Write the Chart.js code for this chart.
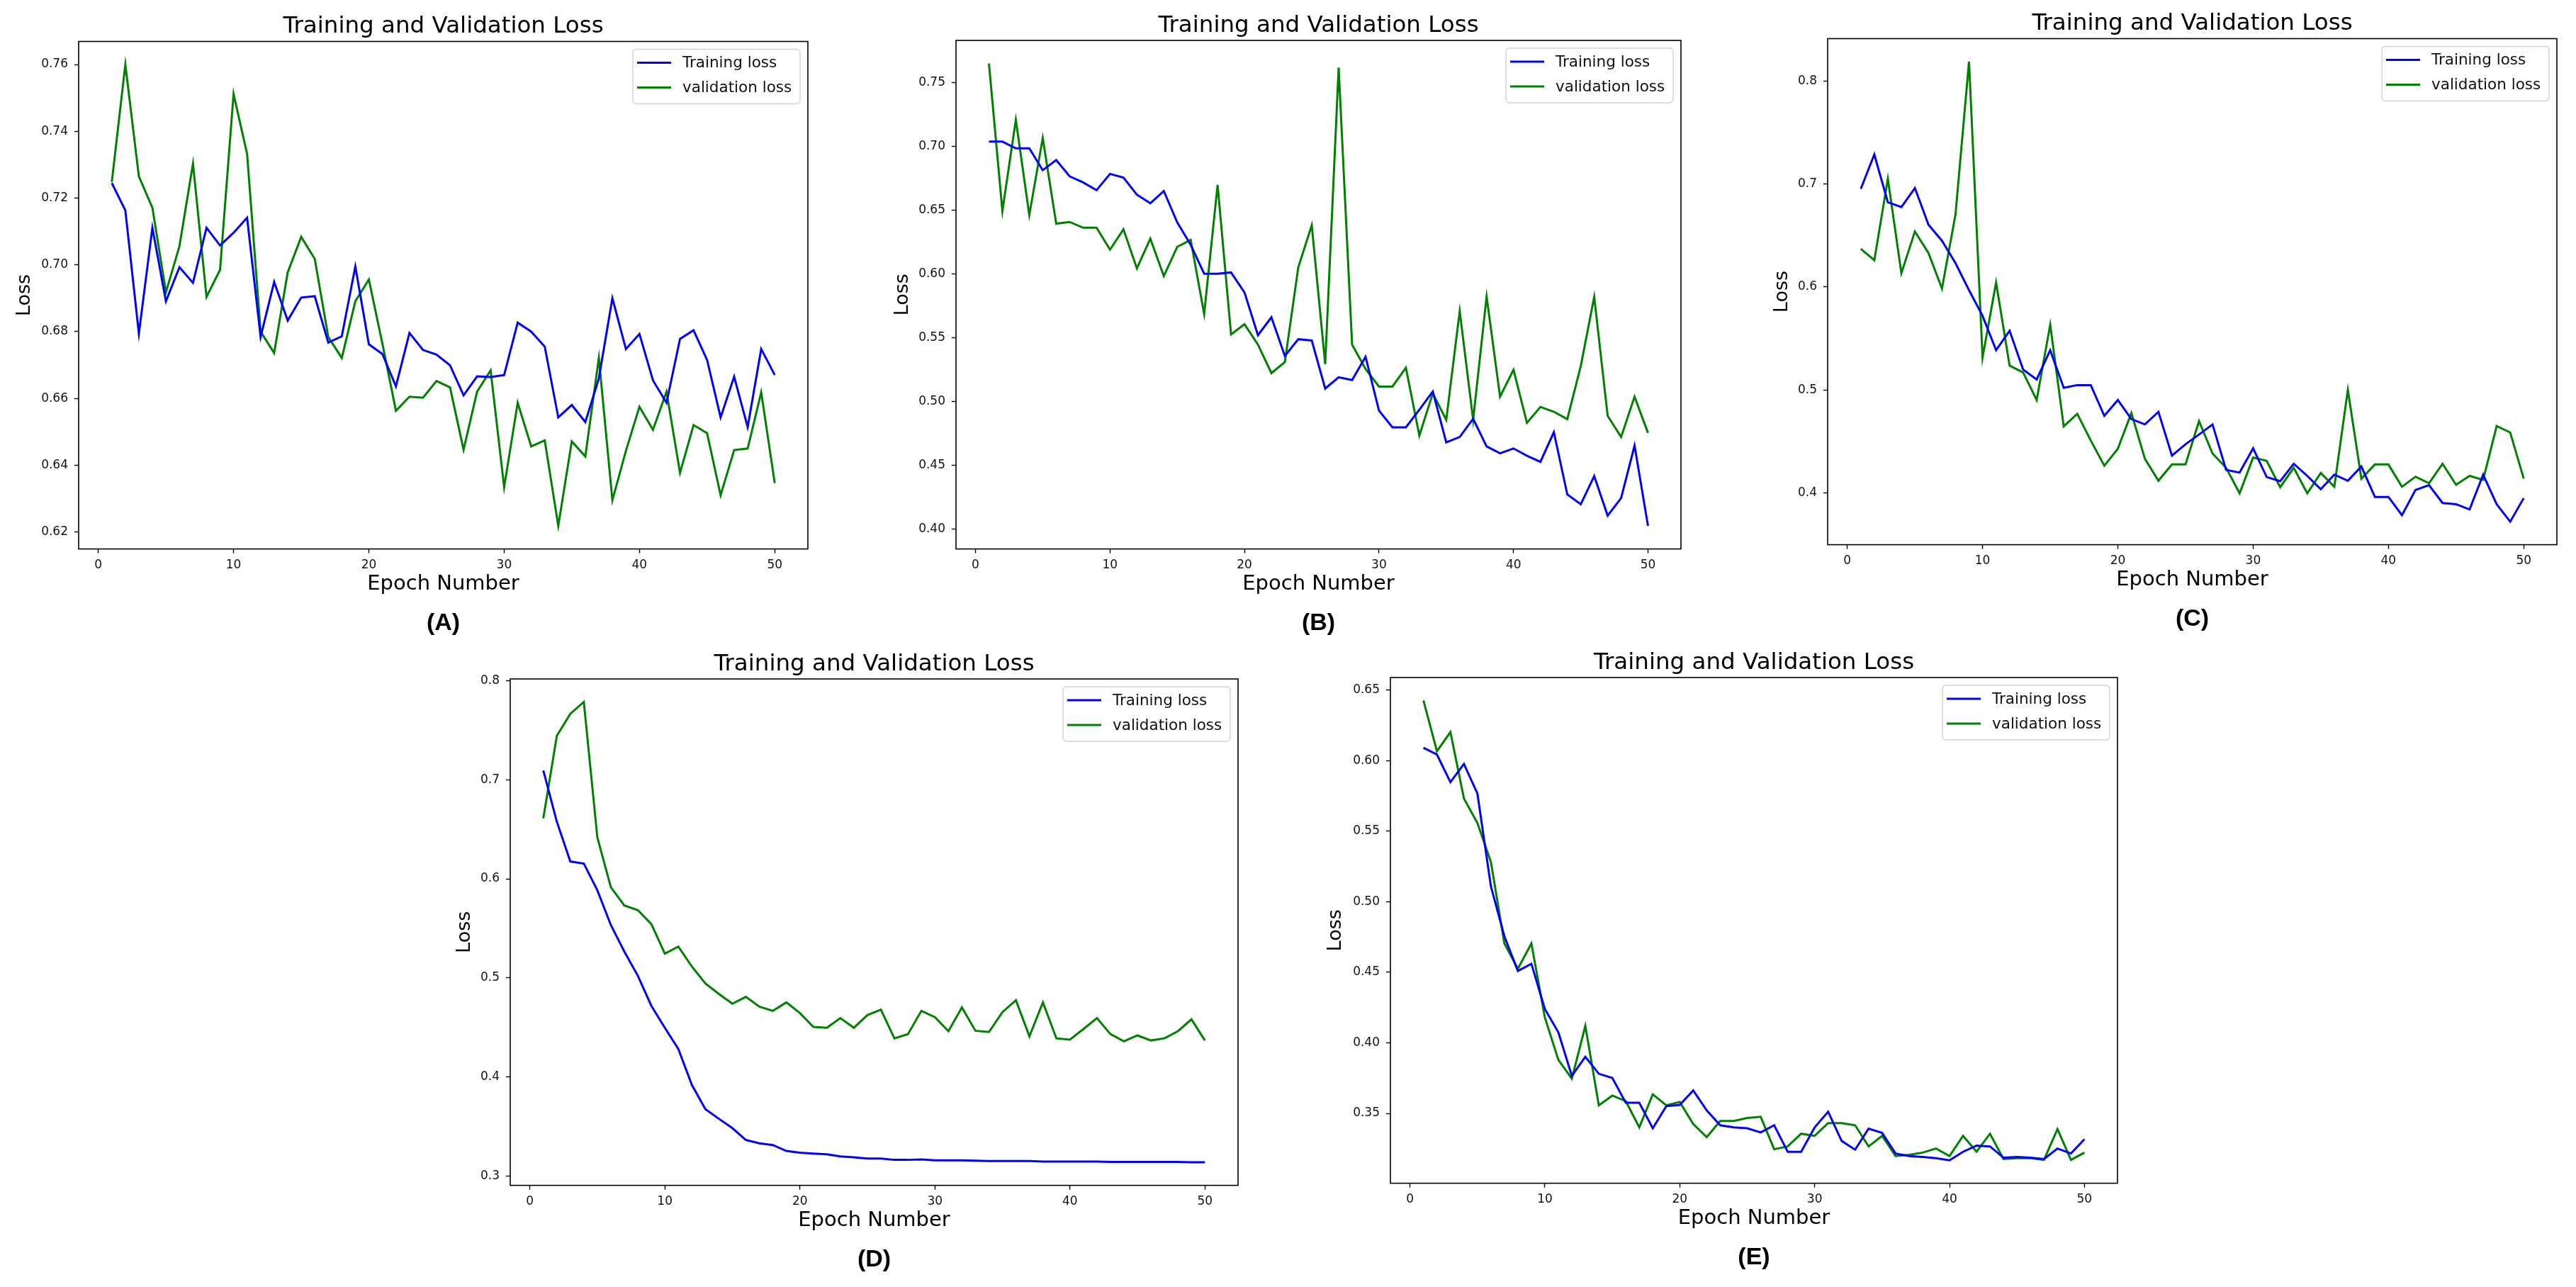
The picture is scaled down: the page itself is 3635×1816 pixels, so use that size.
<!DOCTYPE html>
<html><head><meta charset="utf-8">
<script src="https://cdn.jsdelivr.net/npm/chart.js@4.4.1/dist/chart.umd.min.js"></script>
<style>
html,body{margin:0;padding:0;background:#fff;}
#page{position:relative;width:3635px;height:1816px;overflow:hidden;background:#fff;}
#page canvas{position:absolute;}
</style></head><body><div id="page"></div>
<script>
const epochs = [1,2,3,4,5,6,7,8,9,10,11,12,13,14,15,16,17,18,19,20,21,22,23,24,25,26,27,28,29,30,31,32,33,34,35,36,37,38,39,40,41,42,43,44,45,46,47,48,49,50];
const xTickLabels = ['0','10','20','30','40','50'];
const chartTitle = 'Training and Validation Loss';
const xAxisTitle = 'Epoch Number';
const yAxisTitle = 'Loss';
const seriesNames = ['Training loss','validation loss'];
const panelLabels = ['(A)','(B)','(C)','(D)','(E)'];

const trainA = [0.7245,0.7163,0.6794,0.7111,0.6891,0.6993,0.6946,0.7111,0.7058,0.7096,
0.7141,0.6784,0.6949,0.6833,0.6902,0.6906,0.6767,0.6786,0.6995,0.6762,
0.6733,0.6636,0.6796,0.6745,0.6731,0.6699,0.6609,0.6666,0.6664,0.6670,
0.6827,0.6800,0.6755,0.6543,0.6580,0.6529,0.6660,0.6900,0.6748,0.6793,
0.6654,0.6587,0.6778,0.6804,0.6715,0.6543,0.6665,0.6514,0.6748,0.6670];
const valA = [0.7248,0.7600,0.7265,0.7171,0.6918,0.7056,0.7303,0.6904,0.6985,0.7512,
0.7332,0.6800,0.6736,0.6977,0.7084,0.7018,0.6784,0.6721,0.6891,0.6956,
0.6764,0.6563,0.6605,0.6602,0.6652,0.6633,0.6446,0.6620,0.6684,0.6334,
0.6587,0.6456,0.6474,0.6218,0.6471,0.6426,0.6721,0.6295,0.6443,0.6575,
0.6506,0.6620,0.6377,0.6520,0.6496,0.6310,0.6445,0.6450,0.6618,0.6346];
const yTicksA = ['0.62','0.64','0.66','0.68','0.70','0.72','0.74','0.76'];

const trainB = [0.7037,0.7037,0.6985,0.6985,0.6813,0.6893,0.6765,0.6717,0.6656,0.6784,
0.6755,0.6621,0.6554,0.6650,0.6404,0.6228,0.6001,0.6001,0.6011,0.5854,
0.5519,0.5659,0.5356,0.5487,0.5477,0.5100,0.5189,0.5167,0.5349,0.4927,
0.4796,0.4796,0.4934,0.5077,0.4678,0.4720,0.4863,0.4646,0.4592,0.4630,
0.4573,0.4525,0.4758,0.4269,0.4192,0.4413,0.4103,0.4240,0.4652,0.4023];
const valB = [0.7650,0.6493,0.7209,0.6461,0.7065,0.6394,0.6407,0.6362,0.6362,0.6190,
0.6349,0.6043,0.6276,0.5982,0.6212,0.6266,0.5685,0.6698,0.5525,0.5605,
0.5445,0.5221,0.5308,0.6052,0.6381,0.5292,0.7618,0.5445,0.5253,0.5116,
0.5116,0.5263,0.4732,0.5062,0.4854,0.5707,0.4854,0.5822,0.5036,0.5247,
0.4831,0.4956,0.4918,0.4860,0.5276,0.5819,0.4886,0.4720,0.5036,0.4752];
const yTicksB = ['0.40','0.45','0.50','0.55','0.60','0.65','0.70','0.75'];

const trainC = [0.6953,0.7287,0.6823,0.6776,0.6961,0.6606,0.6449,0.6232,0.5969,0.5720,
0.5386,0.5575,0.5197,0.5102,0.5386,0.5020,0.5047,0.5047,0.4748,0.4902,
0.4717,0.4665,0.4787,0.4362,0.4472,0.4567,0.4665,0.4224,0.4197,0.4433,
0.4154,0.4114,0.4283,0.4165,0.4035,0.4177,0.4118,0.4256,0.3961,0.3961,
0.3783,0.4028,0.4075,0.3902,0.3890,0.3839,0.4177,0.3890,0.3720,0.3949];
const valC = [0.6370,0.6260,0.7051,0.6134,0.6539,0.6331,0.5984,0.6705,0.8189,0.5315,
0.6043,0.5236,0.5169,0.4902,0.5634,0.4646,0.4768,0.4508,0.4264,0.4429,
0.4776,0.4331,0.4118,0.4276,0.4276,0.4697,0.4382,0.4244,0.3996,0.4343,
0.4311,0.4055,0.4244,0.3996,0.4193,0.4059,0.5000,0.4138,0.4276,0.4276,
0.4059,0.4157,0.4094,0.4283,0.4079,0.4165,0.4126,0.4650,0.4587,0.4138];
const yTicksC = ['0.4','0.5','0.6','0.7','0.8'];

const trainD = [0.7094,0.6577,0.6175,0.6154,0.5885,0.5534,0.5265,0.5021,0.4718,0.4496,
0.4282,0.3919,0.3675,0.3577,0.3483,0.3363,0.3329,0.3312,0.3252,0.3235,
0.3226,0.3218,0.3197,0.3188,0.3175,0.3175,0.3162,0.3162,0.3167,0.3158,
0.3158,0.3158,0.3154,0.3150,0.3150,0.3150,0.3150,0.3145,0.3145,0.3145,
0.3145,0.3145,0.3141,0.3141,0.3141,0.3141,0.3141,0.3141,0.3137,0.3137];
const valD = [0.6611,0.7444,0.7667,0.7786,0.6419,0.5915,0.5731,0.5684,0.5543,0.5244,
0.5316,0.5115,0.4944,0.4838,0.4739,0.4808,0.4709,0.4667,0.4752,0.4645,
0.4504,0.4496,0.4594,0.4496,0.4624,0.4679,0.4389,0.4432,0.4667,0.4603,
0.4462,0.4701,0.4466,0.4453,0.4654,0.4774,0.4410,0.4752,0.4389,0.4376,
0.4483,0.4594,0.4432,0.4359,0.4419,0.4368,0.4389,0.4462,0.4581,0.4368];
const yTicksD = ['0.3','0.4','0.5','0.6','0.7','0.8'];

const trainE = [0.6090,0.6042,0.5847,0.5976,0.5766,0.5108,0.4754,0.4509,0.4560,0.4240,
0.4075,0.3766,0.3901,0.3781,0.3751,0.3575,0.3575,0.3395,0.3551,0.3560,
0.3662,0.3521,0.3416,0.3401,0.3395,0.3365,0.3416,0.3228,0.3228,0.3401,
0.3512,0.3305,0.3243,0.3392,0.3362,0.3216,0.3198,0.3192,0.3183,0.3168,
0.3228,0.3272,0.3266,0.3186,0.3192,0.3186,0.3177,0.3251,0.3216,0.3317];
const valE = [0.6425,0.6066,0.6201,0.5731,0.5557,0.5281,0.4704,0.4524,0.4704,0.4180,
0.3880,0.3746,0.4120,0.3557,0.3626,0.3587,0.3401,0.3635,0.3557,0.3581,
0.3425,0.3332,0.3446,0.3446,0.3467,0.3476,0.3246,0.3266,0.3356,0.3341,
0.3431,0.3431,0.3416,0.3266,0.3341,0.3198,0.3207,0.3222,0.3251,0.3198,
0.3341,0.3228,0.3356,0.3177,0.3183,0.3183,0.3171,0.3389,0.3171,0.3222];
const yTicksE = ['0.35','0.40','0.45','0.50','0.55','0.60','0.65'];

// page layout (plot-area edges in page pixels) — kept apart from the data
const placements = [
  {L:111,  R:1140, T:58.5, B:775,  lossX:35},
  {L:1349, R:2372, T:57,   B:775,  lossX:1274.5},
  {L:2579, R:3608, T:54.5, B:769,  lossX:2515.5},
  {L:720,  R:1747, T:958,  B:1673, lossX:655.7},
  {L:1962, R:2988, T:956,  B:1670, lossX:1885.5}
];
const panelData = [
  {train:trainA, val:valA, yTicks:yTicksA},
  {train:trainB, val:valB, yTicks:yTicksB},
  {train:trainC, val:valC, yTicks:yTicksC},
  {train:trainD, val:valD, yTicks:yTicksD},
  {train:trainE, val:valE, yTicks:yTicksE}
];

Chart.defaults.font.family = "'DejaVu Sans', sans-serif";

function mplLimits(arrs){
  let mn = Infinity, mx = -Infinity;
  arrs.forEach(a => a.forEach(v => { if (v < mn) mn = v; if (v > mx) mx = v; }));
  const m = (mx - mn) * 0.05;
  return [mn - m, mx + m];
}

const framePlugin = {
  id: 'mplFrame',
  afterDatasetsDraw(chart){
    const {ctx, chartArea:a} = chart;
    ctx.save();
    ctx.strokeStyle = '#000';
    ctx.lineWidth = 1.6;
    ctx.strokeRect(a.left, a.top, a.right - a.left, a.bottom - a.top);
    ctx.restore();
  }
};
const legendPlugin = {
  id: 'mplLegend',
  afterDraw(chart){
    const {ctx, chartArea:a} = chart;
    const w = 236, h = 77;
    const x0 = a.right - 11 - w, y0 = a.top + 11;
    ctx.save();
    ctx.beginPath();
    ctx.roundRect(x0, y0, w, h, 5);
    ctx.fillStyle = 'rgba(255,255,255,0.85)';
    ctx.fill();
    ctx.strokeStyle = '#d4d4d4';
    ctx.lineWidth = 1.5;
    ctx.stroke();
    const rows = [19, 54];
    chart.data.datasets.forEach((ds, i) => {
      const y = y0 + rows[i];
      ctx.beginPath();
      ctx.moveTo(x0 + 6, y);
      ctx.lineTo(x0 + 54, y);
      ctx.strokeStyle = ds.borderColor;
      ctx.lineWidth = 3;
      ctx.stroke();
      ctx.fillStyle = '#111';
      ctx.font = "21.5px 'DejaVu Sans', sans-serif";
      ctx.textBaseline = 'middle';
      ctx.textAlign = 'left';
      ctx.fillText(ds.label, x0 + 70, y + 1);
    });
    ctx.restore();
  }
};

const page = document.getElementById('page');
const X_AXIS_H = 67;
const TITLE_SIZE = 32.5, YT_SIZE = 27, XT_SIZE = 29, SUB_SIZE = 34, SUB_PAD = 17.6;

placements.forEach((p, i) => {
  const d = panelData[i];
  const canvasLeft = Math.round(p.lossX - YT_SIZE * 1.2 / 2);
  const yW = p.L - canvasLeft;
  const canvasTop = Math.floor(p.T - 40);
  const padT = p.T - 40 - canvasTop;
  const canvasBottom = p.B + X_AXIS_H + SUB_PAD + SUB_SIZE * 1.2;
  const W = Math.round(p.R + 10 - canvasLeft);
  const H = Math.round(canvasBottom - canvasTop);
  const cv = document.createElement('canvas');
  cv.width = W; cv.height = H;
  cv.style.left = canvasLeft + 'px'; cv.style.top = canvasTop + 'px';
  cv.style.width = W + 'px'; cv.style.height = H + 'px';
  page.appendChild(cv);

  const xl = mplLimits([epochs]);
  const yl = mplLimits([d.train, d.val]);
  const yVals = d.yTicks.map(Number);
  const xVals = xTickLabels.map(Number);

  new Chart(cv, {
    type: 'line',
    data: {
      datasets: [
        {label: seriesNames[0], data: epochs.map((e, k) => ({x:e, y:d.train[k]})), borderColor:'#0000ff', borderWidth:3, pointRadius:0, tension:0, fill:false},
        {label: seriesNames[1], data: epochs.map((e, k) => ({x:e, y:d.val[k]})), borderColor:'#008000', borderWidth:3, pointRadius:0, tension:0, fill:false}
      ]
    },
    options: {
      responsive: false,
      devicePixelRatio: 1,
      animation: false,
      layout: {padding: {left:0, right:10, top:0, bottom:0}},
      plugins: {
        legend: {display:false},
        tooltip: {enabled:false},
        title: {display:true, text:chartTitle, fullSize:false, color:'#000',
                font:{size:TITLE_SIZE, weight:'normal'}, padding:{top:padT, bottom:1}},
        subtitle: {display:true, position:'bottom', text:panelLabels[i], fullSize:false, color:'#000',
                font:{family:"'Liberation Sans', sans-serif", size:SUB_SIZE, weight:'bold'}, padding:{top:SUB_PAD, bottom:0}}
      },
      scales: {
        x: {
          type:'linear', min:xl[0], max:xl[1], bounds:'data',
          afterBuildTicks: s => { s.ticks = xVals.map(v => ({value:v})); },
          afterFit: s => { s.height = X_AXIS_H; },
          ticks: {autoSkip:false, maxRotation:0, padding:7, color:'#111', font:{size:17},
                  callback:(v, k) => xTickLabels[k]},
          grid: {display:true, drawOnChartArea:false, drawTicks:true, tickLength:6, tickWidth:1.4, tickColor:'#000'},
          border: {display:false},
          title: {display:true, text:xAxisTitle, color:'#000', font:{size:XT_SIZE}, padding:{top:0, bottom:0}}
        },
        y: {
          type:'linear', min:yl[0], max:yl[1], bounds:'data',
          afterBuildTicks: s => { s.ticks = yVals.map(v => ({value:v})); },
          afterFit: s => { s.width = yW; },
          ticks: {autoSkip:false, padding:9, color:'#111', font:{size:17},
                  callback:(v, k) => d.yTicks[k]},
          grid: {display:true, drawOnChartArea:false, drawTicks:true, tickLength:6, tickWidth:1.4, tickColor:'#000'},
          border: {display:false},
          title: {display:true, text:yAxisTitle, color:'#000', font:{size:YT_SIZE}, padding:{top:0, bottom:0}}
        }
      }
    },
    plugins: [framePlugin, legendPlugin]
  });
});
</script></body></html>
